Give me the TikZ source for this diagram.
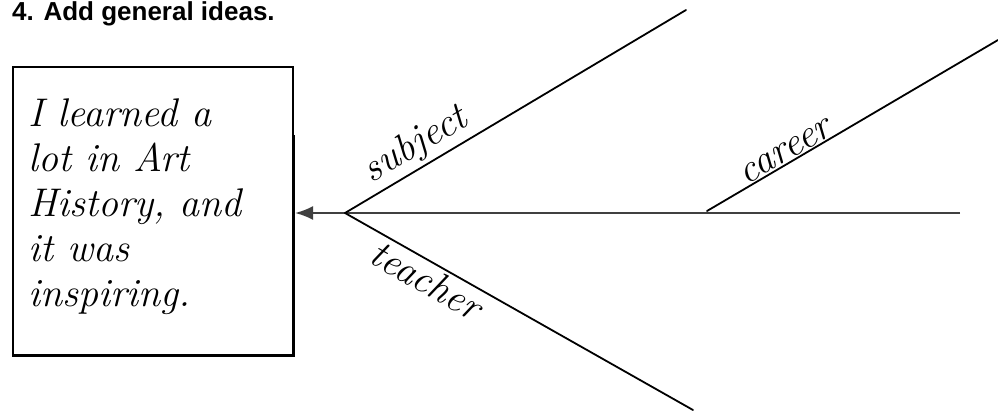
\documentclass[tikz,border=0pt]{standalone}
\usepackage{fontspec}
\newfontfamily\headfont{Liberation Sans}
\usetikzlibrary{arrows.meta}
\tikzset{
	hand/.style={font=\itshape\fontsize{40}{45}\selectfont, inner sep=0pt},
	spine/.style={line width=2.2pt, draw=black!75},
	rib/.style={line width=1.8pt, line cap=round},
}
\begin{document}
\begin{tikzpicture}[x=1pt,y=-1pt]
	\useasboundingbox (0,0) rectangle (998,410);
	\node[anchor=base west, font=\headfont\bfseries\fontsize{26}{30}\selectfont, inner sep=0pt] (title) at (12,20) {4. Add general ideas.};
	\node[draw, line width=1.6pt, anchor=north west, minimum width=280pt, minimum height=288pt, inner sep=0pt] (note) at (12,66) {};
	\draw[line width=3.5pt] ([yshift=-69pt]note.north east) -- (note.south east) -- (note.south west);
	\node[hand, anchor=north west, align=left] (memo) at (28,99) {I learned a\\lot in Art\\History, and\\it was\\inspiring.};
	\coordinate (tip) at (295,213);
	\coordinate (tail) at (960,213);
	\coordinate (fork) at (345,213);
	\coordinate (subj) at (686,10);
	\coordinate (teach) at (693,410);
	\coordinate (carfoot) at (707,211);
	\coordinate (carend) at (998,40);
	\draw[spine, -{Latex[length=18pt,width=14pt]}] (tail) -- (tip);
	\draw[rib] (fork) -- (subj) node[hand, pos=.24, sloped, above=3pt] (subjlabel) {subject};
	\draw[rib] (fork) -- (teach) node[hand, pos=.26, sloped, below=3pt] (teachlabel) {teacher};
	\draw[rib] (carfoot) -- (carend) node[hand, pos=.29, sloped, above=1pt] (carlabel) {career};
\end{tikzpicture}
\end{document}
